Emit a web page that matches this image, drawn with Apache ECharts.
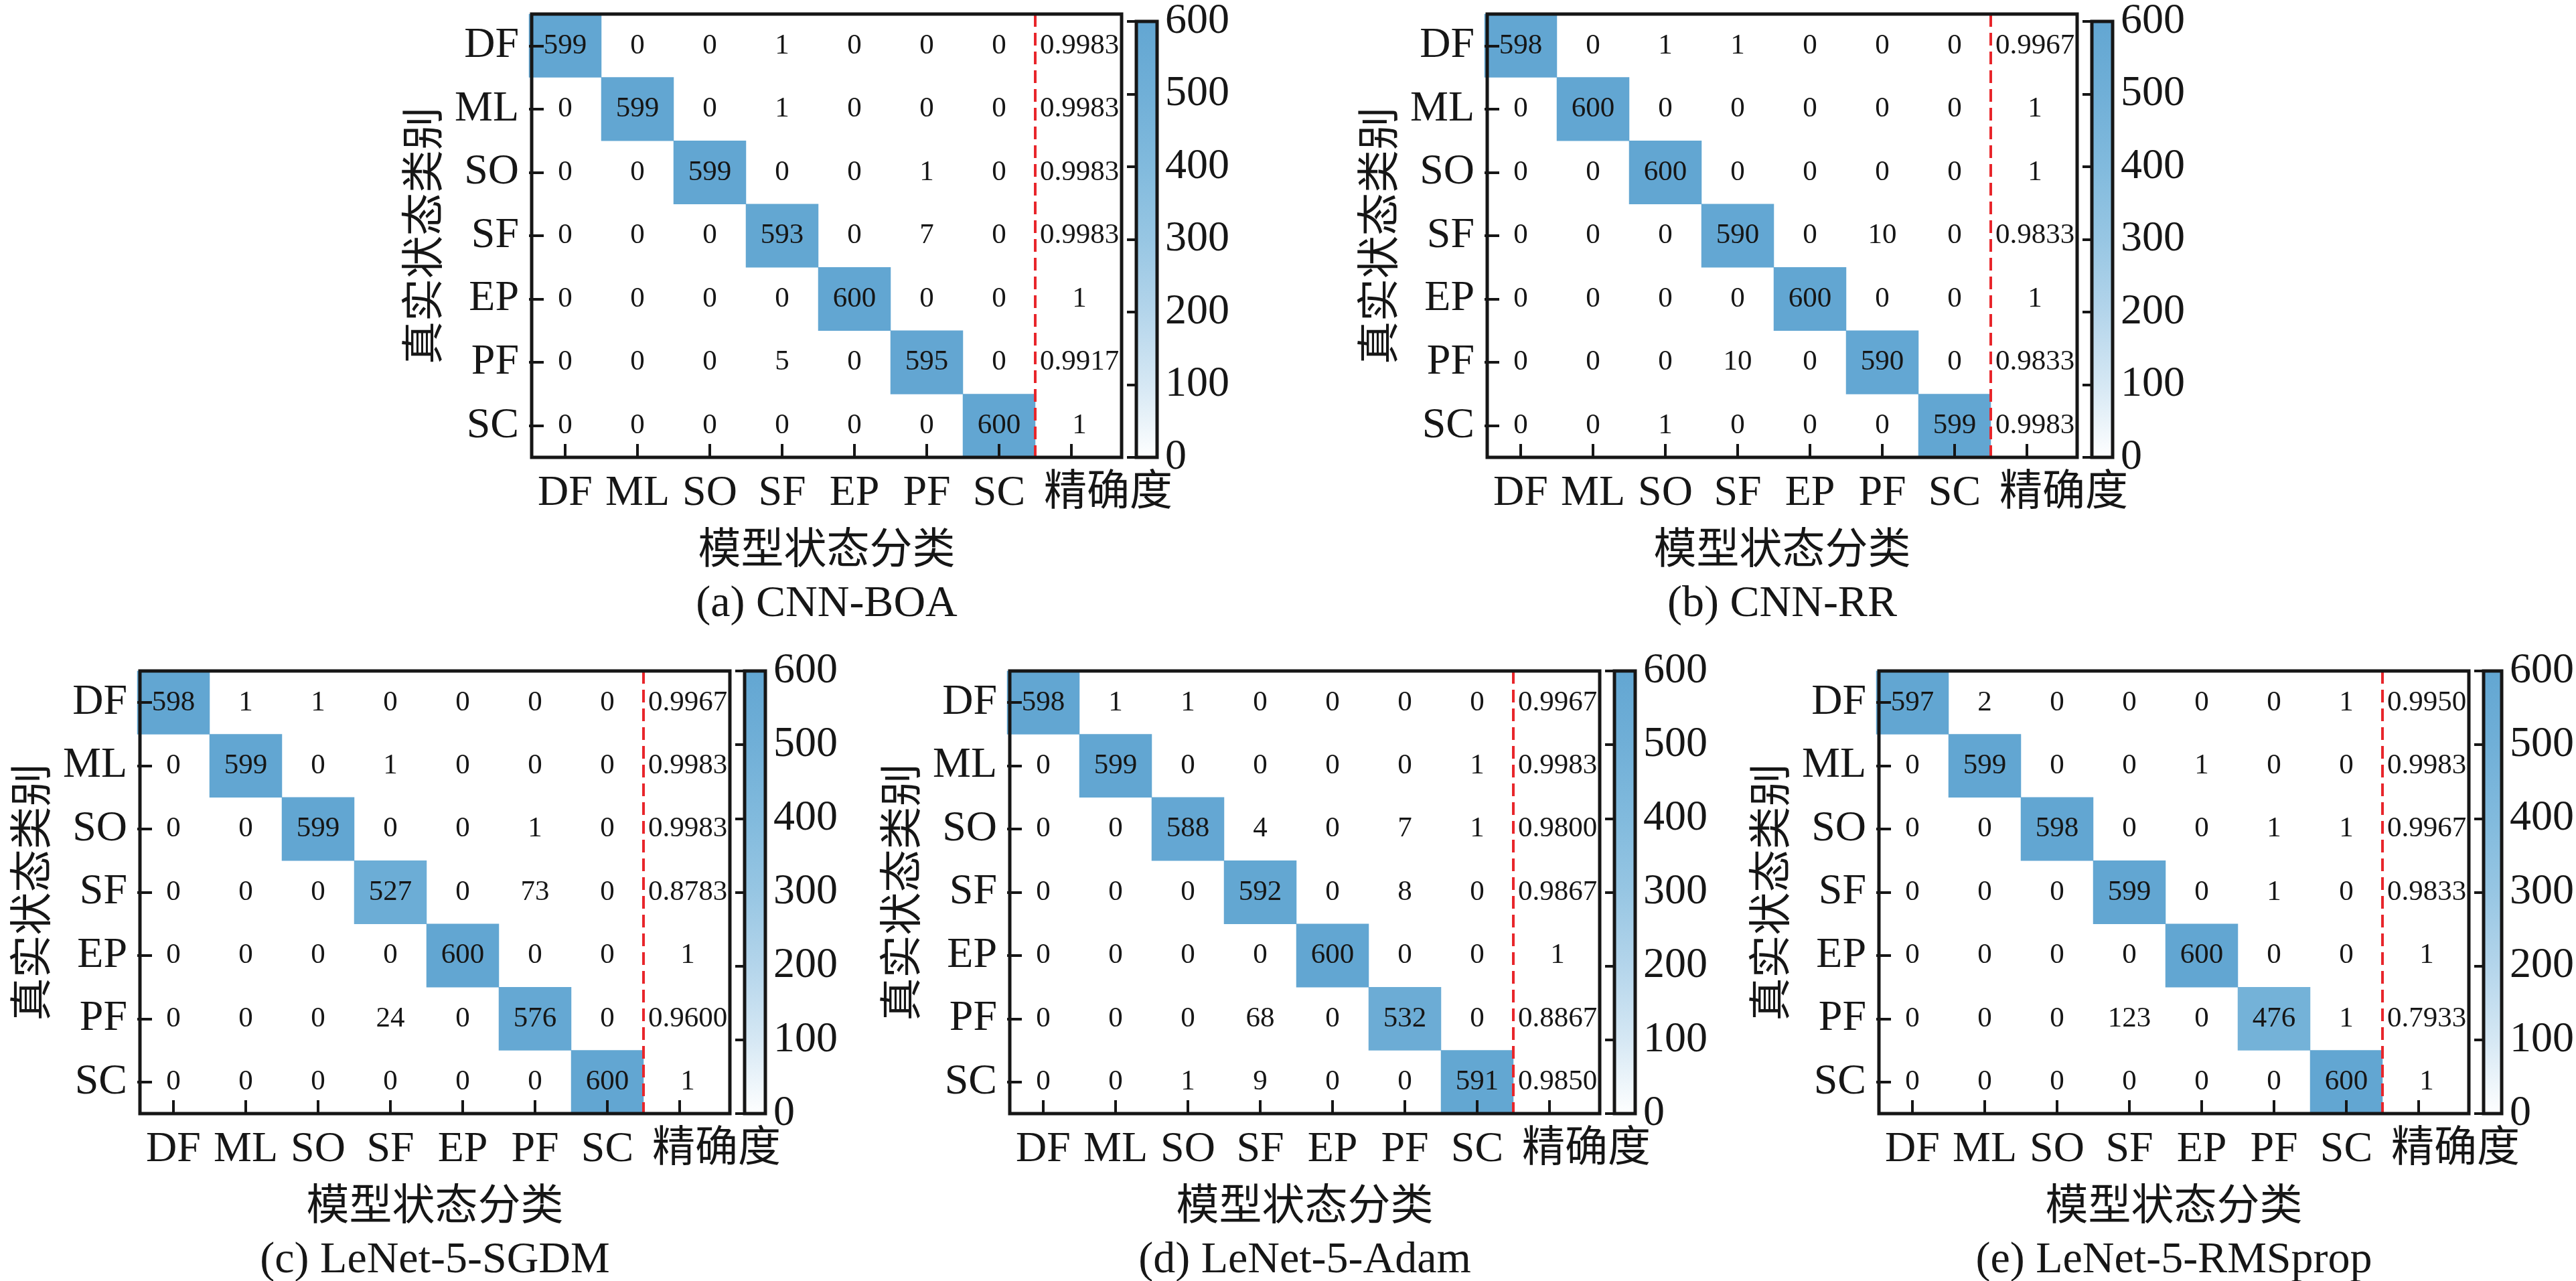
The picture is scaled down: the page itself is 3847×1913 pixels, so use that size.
<!DOCTYPE html>
<html>
<head>
<meta charset="utf-8">
<title>混淆矩阵对比</title>
<script src="https://cdn.jsdelivr.net/npm/echarts@6.0.0/dist/echarts.min.js"></script>
<style>
html, body { margin: 0; padding: 0; background: #fff; }
#chart { width: 3847px; height: 1913px; }
</style>
</head>
<body>
<div id="chart"></div>
<script>
/**
 * Confusion matrices of five models (CNN-BOA, CNN-RR, LeNet-5 variants)
 */

// Categories
var CLASS_LABELS = ['DF', 'ML', 'SO', 'SF', 'EP', 'PF', 'SC'];
var X_LABELS = CLASS_LABELS.concat(['精确度']);

// Colour bar scale
var CB_MIN = 0;
var CB_MAX = 600;
var CB_STEP = 100;

// (a) CNN-BOA
var cmBOA = [
    [599, 0, 0, 1, 0, 0, 0],
    [0, 599, 0, 1, 0, 0, 0],
    [0, 0, 599, 0, 0, 1, 0],
    [0, 0, 0, 593, 0, 7, 0],
    [0, 0, 0, 0, 600, 0, 0],
    [0, 0, 0, 5, 0, 595, 0],
    [0, 0, 0, 0, 0, 0, 600]
];
var precBOA = [0.9983, 0.9983, 0.9983, 0.9983, 1, 0.9917, 1];

// (b) CNN-RR
var cmRR = [
    [598, 0, 1, 1, 0, 0, 0],
    [0, 600, 0, 0, 0, 0, 0],
    [0, 0, 600, 0, 0, 0, 0],
    [0, 0, 0, 590, 0, 10, 0],
    [0, 0, 0, 0, 600, 0, 0],
    [0, 0, 0, 10, 0, 590, 0],
    [0, 0, 1, 0, 0, 0, 599]
];
var precRR = [0.9967, 1, 1, 0.9833, 1, 0.9833, 0.9983];

// (c) LeNet-5-SGDM
var cmSGDM = [
    [598, 1, 1, 0, 0, 0, 0],
    [0, 599, 0, 1, 0, 0, 0],
    [0, 0, 599, 0, 0, 1, 0],
    [0, 0, 0, 527, 0, 73, 0],
    [0, 0, 0, 0, 600, 0, 0],
    [0, 0, 0, 24, 0, 576, 0],
    [0, 0, 0, 0, 0, 0, 600]
];
var precSGDM = [0.9967, 0.9983, 0.9983, 0.8783, 1, 0.9600, 1];

// (d) LeNet-5-Adam
var cmAdam = [
    [598, 1, 1, 0, 0, 0, 0],
    [0, 599, 0, 0, 0, 0, 1],
    [0, 0, 588, 4, 0, 7, 1],
    [0, 0, 0, 592, 0, 8, 0],
    [0, 0, 0, 0, 600, 0, 0],
    [0, 0, 0, 68, 0, 532, 0],
    [0, 0, 1, 9, 0, 0, 591]
];
var precAdam = [0.9967, 0.9983, 0.9800, 0.9867, 1, 0.8867, 0.9850];

// (e) LeNet-5-RMSprop
var cmRMS = [
    [597, 2, 0, 0, 0, 0, 1],
    [0, 599, 0, 0, 1, 0, 0],
    [0, 0, 598, 0, 0, 1, 1],
    [0, 0, 0, 599, 0, 1, 0],
    [0, 0, 0, 0, 600, 0, 0],
    [0, 0, 0, 123, 0, 476, 1],
    [0, 0, 0, 0, 0, 0, 600]
];
var precRMS = [0.9950, 0.9983, 0.9967, 0.9833, 1, 0.7933, 1];

var PANELS = [
    { title: '(a) CNN-BOA', matrix: cmBOA, precision: precBOA },
    { title: '(b) CNN-RR', matrix: cmRR, precision: precRR },
    { title: '(c) LeNet-5-SGDM', matrix: cmSGDM, precision: precSGDM },
    { title: '(d) LeNet-5-Adam', matrix: cmAdam, precision: precAdam },
    { title: '(e) LeNet-5-RMSprop', matrix: cmRMS, precision: precRMS }
];

/**
 * Layout (pixels)
 */
var PANEL_POS = [
    { left: 794, top: 21, height: 662 },
    { left: 2221, top: 21, height: 662 },
    { left: 209, top: 1002, height: 661 },
    { left: 1508, top: 1002, height: 661 },
    { left: 2806, top: 1002, height: 661 }
];
var CELL_W = 108;
var FRAME_W = 881;
var CB_GAP = 903;
var CB_W = 31;

var INK = '#161616';
var SERIF = '"Liberation Serif", "Times New Roman", serif';
var CJK = '"Noto Sans CJK SC", sans-serif';
var MIXED = '"Liberation Serif", "Noto Sans CJK SC", serif';
var COLOR_STOPS = ['#ffffff', '#d6e8f4', '#b4d5eb', '#97c6e3', '#81badd', '#70afd7', '#62a6d2'];

function formatPrecision(v) {
    return v === 1 ? '1' : v.toFixed(4);
}

/**
 * Vertical gradient for the colour bar (max at top)
 */
function colorBarFill() {
    var n = COLOR_STOPS.length;
    var stops = COLOR_STOPS.map(function(c, i) {
        return { offset: 1 - i / (n - 1), color: c };
    }).reverse();
    return { type: 'linear', x: 0, y: 0, x2: 0, y2: 1, colorStops: stops };
}

function buildOption() {
    var option = {
        backgroundColor: '#ffffff',
        animation: false,
        grid: [],
        xAxis: [],
        yAxis: [],
        visualMap: [],
        series: [],
        graphic: []
    };

    PANELS.forEach(function(panel, k) {
        var pos = PANEL_POS[k];
        var g = option.grid.length;

        // heatmap cells
        option.grid.push({ left: pos.left - 4, top: pos.top, width: CELL_W * X_LABELS.length, height: pos.height });
        // outer frame
        option.grid.push({
            left: pos.left, top: pos.top, width: FRAME_W, height: pos.height,
            show: true, borderColor: INK, borderWidth: 5, backgroundColor: 'transparent', z: 5
        });
        // colour bar
        option.grid.push({
            left: pos.left + CB_GAP, top: pos.top, width: CB_W, height: pos.height,
            show: true, borderColor: INK, borderWidth: 5, backgroundColor: colorBarFill(), z: 6
        });

        var xData = X_LABELS.map(function(name, i) {
            if (i === X_LABELS.length - 1) {
                return { value: name, textStyle: { padding: [0, 0, 0, 110] } };
            }
            return name;
        });

        option.xAxis.push({
            gridIndex: g,
            type: 'category',
            data: xData,
            z: 3,
            axisLine: { show: false },
            axisTick: { show: true, interval: 0, inside: true, alignWithLabel: true, length: 20, lineStyle: { color: INK, width: 4 } },
            axisLabel: { interval: 0, hideOverlap: false, margin: 22, fontSize: 64, fontFamily: MIXED, color: INK },
            splitLine: { show: false }
        });
        option.yAxis.push({
            gridIndex: g,
            type: 'category',
            data: CLASS_LABELS,
            inverse: true,
            z: 3,
            axisLine: { show: false },
            axisTick: { show: true, interval: 0, inside: true, alignWithLabel: true, length: 22, lineStyle: { color: INK, width: 4 } },
            axisLabel: { interval: 0, margin: 15, fontSize: 64, fontFamily: SERIF, color: INK },
            splitLine: { show: false },
            name: '真实状态类别',
            nameLocation: 'middle',
            nameGap: 128,
            nameTextStyle: { fontSize: 64, fontFamily: CJK, color: INK }
        });

        option.xAxis.push({
            gridIndex: g + 1,
            type: 'value',
            axisLine: { show: false },
            axisTick: { show: false },
            axisLabel: { show: false },
            splitLine: { show: false },
            name: '模型状态分类',
            nameLocation: 'middle',
            nameGap: 102,
            nameTextStyle: { fontSize: 64, fontFamily: CJK, color: INK }
        });
        option.yAxis.push({ gridIndex: g + 1, type: 'value', show: false });

        option.xAxis.push({ gridIndex: g + 2, type: 'value', show: false });
        option.yAxis.push({
            gridIndex: g + 2,
            type: 'value',
            min: CB_MIN,
            max: CB_MAX,
            interval: CB_STEP,
            position: 'right',
            z: 7,
            axisLine: { show: false },
            axisTick: { show: true, inside: true, length: 14, lineStyle: { color: INK, width: 4 } },
            axisLabel: { margin: 12, fontSize: 64, fontFamily: SERIF, color: INK },
            splitLine: { show: false }
        });

        // split matrix into diagonal / off-diagonal cells
        var diag = [];
        var off = [];
        var prec = [];
        panel.matrix.forEach(function(row, r) {
            row.forEach(function(v, c) {
                if (r === c) diag.push([c, r, v]);
                else off.push([c, r, v]);
            });
            prec.push([CLASS_LABELS.length, r, panel.precision[r]]);
        });

        var cellLabel = {
            show: true,
            fontSize: 43,
            fontFamily: SERIF,
            color: INK,
            formatter: function(p) { return p.value[2]; }
        };

        var diagIndex = option.series.length;
        option.series.push({
            type: 'heatmap',
            xAxisIndex: g,
            yAxisIndex: g,
            data: diag,
            label: cellLabel,
            emphasis: { disabled: true },
            silent: true
        });
        option.series.push({
            type: 'heatmap',
            xAxisIndex: g,
            yAxisIndex: g,
            data: off,
            itemStyle: { color: 'rgba(255,255,255,0)' },
            label: cellLabel,
            emphasis: { disabled: true },
            silent: true
        });
        option.series.push({
            type: 'heatmap',
            xAxisIndex: g,
            yAxisIndex: g,
            data: prec,
            itemStyle: { color: 'rgba(255,255,255,0)' },
            label: {
                show: true,
                fontSize: 43,
                fontFamily: SERIF,
                color: INK,
                offset: [12, 0],
                formatter: function(p) { return formatPrecision(p.value[2]); }
            },
            emphasis: { disabled: true },
            silent: true
        });

        // red dashed separator before the precision column
        option.series.push({
            type: 'custom',
            xAxisIndex: g,
            yAxisIndex: g,
            data: [[CLASS_LABELS.length, 0]],
            z: 4,
            silent: true,
            renderItem: function(params, api) {
                var x = api.coord([api.value(0), api.value(1)])[0] - api.size([1, 0])[0] / 2;
                var cs = params.coordSys;
                return {
                    type: 'line',
                    shape: { x1: x, y1: cs.y, x2: x, y2: cs.y + cs.height },
                    style: { stroke: '#e8262b', lineWidth: 4, lineDash: [19, 9] }
                };
            }
        });

        // colour mapping of the diagonal cells (bar itself drawn by the grid above)
        option.visualMap.push({
            type: 'continuous',
            show: false,
            seriesIndex: diagIndex,
            min: CB_MIN,
            max: CB_MAX,
            inRange: { color: COLOR_STOPS }
        });

        option.graphic.push({
            type: 'text',
            x: pos.left + FRAME_W / 2,
            y: pos.top + pos.height + 220,
            silent: true,
            style: {
                text: panel.title,
                fill: INK,
                font: '66px ' + SERIF,
                align: 'center',
                verticalAlign: 'middle'
            }
        });
    });

    return option;
}

var chart = echarts.init(document.getElementById('chart'), null, { renderer: 'canvas' });
chart.setOption(buildOption());

window.addEventListener('resize', function() {
    chart.resize();
});
</script>
</body>
</html>
